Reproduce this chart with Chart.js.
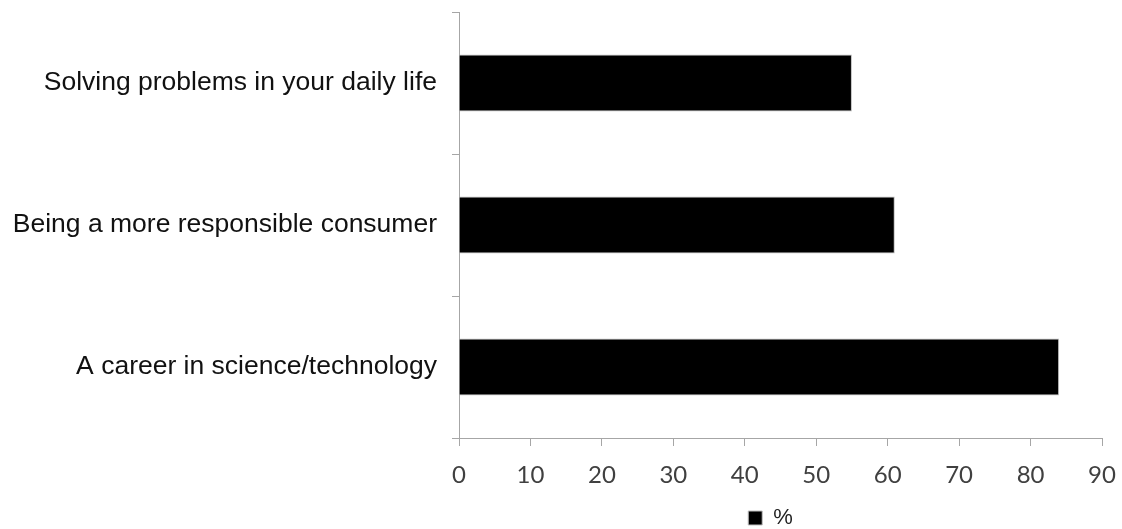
<!DOCTYPE html>
<html>
<head>
<meta charset="utf-8">
<script src="https://cdn.jsdelivr.net/npm/chart.js@4/dist/chart.umd.min.js"></script>
<style>
  html, body { margin: 0; padding: 0; background: #fff; }
  #wrap { width: 1122px; height: 529px; }
</style>
</head>
<body>
<div id="wrap"><canvas id="chart" width="1122" height="529"></canvas></div>
<script>
// data
const categories = [
  "Solving problems in your daily life",
  "Being a more responsible consumer",
  "A career in science/technology"
];
const percentValues = [55, 61, 84];
const seriesName = "%";
const xTicks = [0, 10, 20, 30, 40, 50, 60, 70, 80, 90];

const axisGray = "#a6a6a6";

// nudge the legend a bit (it sits slightly left of the plot centre, and low)
const legendNudge = {
  id: "legendNudge",
  afterLayout(chart) {
    const lg = chart.legend;
    lg.left -= 10;
    lg.right -= 10;
    lg.top += 10;
    lg.bottom += 10;
  },
};

const ctx = document.getElementById("chart").getContext("2d");
new Chart(ctx, {
  type: "bar",
  data: {
    labels: categories,
    datasets: [
      {
        label: seriesName,
        data: percentValues,
        backgroundColor: "#000000",
        borderColor: "#bfbfbf",
        borderWidth: 1,
        barPercentage: 0.4,
        categoryPercentage: 1.0,
      },
    ],
  },
  options: {
    indexAxis: "y",
    responsive: false,
    animation: false,
    layout: { padding: { left: 0, right: 20, top: 12, bottom: 0 } },
    plugins: {
      tooltip: { enabled: false },
      legend: {
        position: "bottom",
        fullSize: false,
        labels: {
          boxWidth: 14,
          boxHeight: 14,
          padding: 0,
          color: "#222",
          font: { family: "'Liberation Sans', Arial", size: 22, lineHeight: 1 },
        },
      },
    },
    scales: {
      x: {
        type: "linear",
        min: 0,
        max: 90,
        afterBuildTicks: (scale) => {
          scale.ticks = xTicks.map((v) => ({ value: v }));
        },
        afterFit: (scale) => {
          scale.height = 59;
          scale.paddingLeft = 0;
          scale.paddingRight = 0;
        },
        border: { color: axisGray, width: 1 },
        grid: { drawOnChartArea: false, color: axisGray, tickLength: 8 },
        ticks: {
          padding: 15,
          color: "#404040",
          font: { family: "Lato", size: 24 },
        },
      },
      y: {
        afterFit: (scale) => {
          scale.width = 459;
          scale.paddingTop = 0;
          scale.paddingBottom = 0;
        },
        border: { color: axisGray, width: 1 },
        grid: { drawOnChartArea: false, color: axisGray, tickLength: 7, offset: true },
        ticks: {
          padding: 15,
          color: "#111",
          font: { family: "'Liberation Sans', Arial", size: 26.5 },
        },
      },
    },
  },
  plugins: [legendNudge],
});
</script>
</body>
</html>
